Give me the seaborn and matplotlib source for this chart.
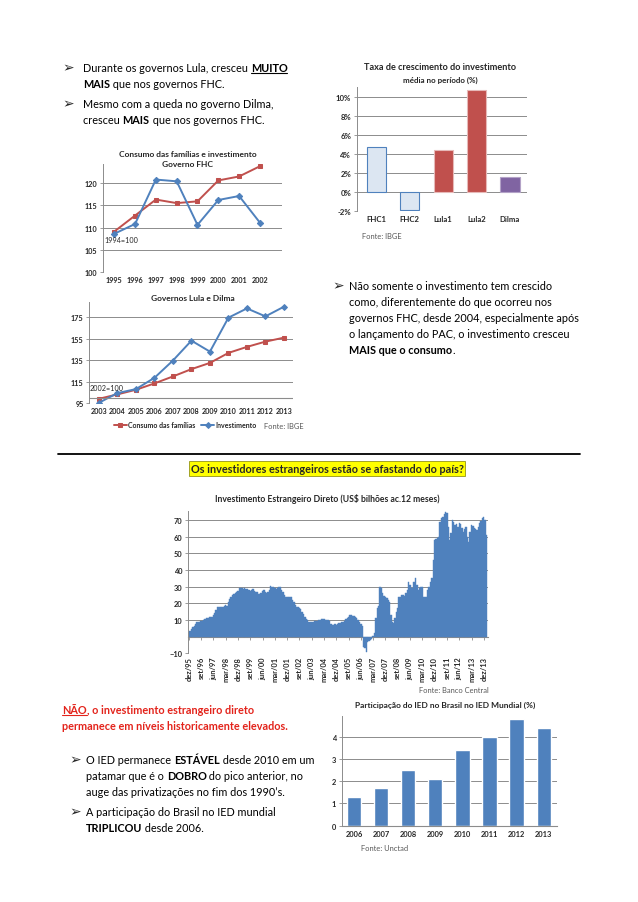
import matplotlib
matplotlib.use("Agg")
import matplotlib.pyplot as plt
from matplotlib.lines import Line2D
import seaborn as sns
import pandas as pd
import numpy as np

W, H = 638, 903
FONT = ["Lato", "DejaVu Sans"]
BLUE = "#4F81BD"
RED = "#C0504D"
GRID = "#8C8C8C"
BODY = 7.8

# ---------------- data ----------------
taxa_periodos = ["FHC1", "FHC2", "Lula1", "Lula2", "Dilma"]
taxa_valores = [4.7, -1.9, 4.4, 10.7, 1.6]

fhc_anos = ["1995", "1996", "1997", "1998", "1999", "2000", "2001", "2002"]
fhc_consumo = [109.1, 112.7, 116.3, 115.5, 115.9, 120.6, 121.5, 123.8]
fhc_invest = [108.6, 110.8, 120.8, 120.4, 110.6, 116.2, 117.1, 111.1]

ld_anos = ["2003", "2004", "2005", "2006", "2007", "2008", "2009", "2010", "2011", "2012", "2013"]
ld_consumo = [99.2, 103.3, 107.6, 113.5, 120.0, 126.8, 132.6, 141.9, 147.5, 152.4, 156.1]
ld_invest = [95.5, 104.5, 108.2, 118.7, 134.8, 153.3, 143.1, 174.7, 183.3, 175.9, 184.9]

# IED liquido, US$ bi acumulado 12 meses, mensal de dez/95 a fev/14
ied_valores = [
    2.5,
    3.5, 4.5, 5.5, 6.5, 7.5, 8.5, 9, 9, 9.5, 9.5, 10, 10.5,
    11, 11, 11.5, 11.5, 12, 13, 14, 16, 17.5, 17.5, 18, 18,
    18, 18.5, 19, 18.5, 20.5, 22.5, 24, 25, 25.5, 26, 26.5, 27.5,
    29, 29, 29, 28.5, 29, 28.5, 28.5, 28, 27.5, 28, 28.5, 27.5,
    27, 26.5, 25.5, 25.5, 26, 27.5, 28, 27, 26, 26.5, 28, 30.5,
    30, 29.5, 29, 28.5, 29, 29.5, 30, 28, 27, 25, 24, 24,
    24, 23.5, 23.5, 22, 21, 19, 18, 17.5, 17, 16.5, 15, 13.5,
    12, 10.5, 10, 9, 8.5, 8.5, 9, 9.5, 9.5, 9.5, 10, 10,
    10.5, 10.5, 10.5, 10, 10, 10, 9.5, 7.5, 7, 7, 7.5, 7,
    7.5, 8, 8, 8.5, 9, 9.5, 10.5, 11, 12, 13, 13, 12.5,
    12.5, 12, 11, 10, 9, 7.5, 6.5, -6, -7, -9.5, -3, -2.5,
    -2, -1.5, 0.5, 2, 11, 17, 18.5, 30, 29, 26, 24.5, 23.5,
    23, 22, 20.5, 13, 9, 8, 11, 15, 17, 23.5, 24, 25,
    25, 24.5, 26, 28, 33, 31, 29, 29, 33, 35, 31, 28,
    29, 30, 29.5, 24, 23.5, 24, 28, 30, 33, 35, 46, 58,
    58.5, 59, 60, 69, 71, 72, 73.5, 74.5, 74, 66, 58, 62,
    70, 68.5, 67, 67.5, 66, 68, 67.5, 65, 63, 64.5, 66, 60,
    57, 63, 67, 66.5, 65, 64.5, 64, 65.5, 68, 69.5, 71, 72,
    70, 61,
]
ied_rotulos = ["dez/95", "set/96", "jun/97", "mar/98", "dez/98", "set/99", "jun/00",
               "mar/01", "dez/01", "set/02", "jun/03", "mar/04", "dez/04", "set/05",
               "jun/06", "mar/07", "dez/07", "set/08", "jun/09", "mar/10", "dez/10",
               "set/11", "jun/12", "mar/13", "dez/13"]

share_anos = ["2006", "2007", "2008", "2009", "2010", "2011", "2012", "2013"]
share_valores = [1.3, 1.7, 2.5, 2.1, 3.4, 4.0, 4.8, 4.4]

# ---------------- figure ----------------
sns.set_theme(style="white")
plt.rcParams["font.family"] = FONT

fig = plt.figure(figsize=(W / 100, H / 100), dpi=100)
fig.patch.set_facecolor("white")
renderer = fig.canvas.get_renderer()


def add_ax(l, t, r, b):
    return fig.add_axes([l / W, 1 - b / H, (r - l) / W, (b - t) / H])


def ftext(x, y, s, **kw):
    kw.setdefault("family", FONT)
    return fig.text(x / W, 1 - y / H, s, **kw)


def text_w(s, **kw):
    t = fig.text(0, 0, "|" + s + "|", **kw)
    w1 = t.get_window_extent(renderer).width
    t.remove()
    t = fig.text(0, 0, "||", **kw)
    w0 = t.get_window_extent(renderer).width
    t.remove()
    return w1 - w0


def rich(x, y, segs, size=BODY, color="black"):
    # segs: (texto, negrito, sublinhado)
    for txt, bold, und in segs:
        kw = dict(fontsize=size, fontweight="bold" if bold else "normal",
                  family=FONT, color=color)
        fig.text(x / W, 1 - y / H, txt, va="baseline", ha="left", **kw)
        w = text_w(txt, **kw)
        if und:
            fig.add_artist(Line2D([x / W, (x + w) / W], [1 - (y + 1.8) / H] * 2,
                                  color=color, lw=0.8))
        x += w


def style_ax(ax, size=5.6):
    for s in ["top", "right", "bottom"]:
        ax.spines[s].set_visible(False)
    ax.spines["left"].set_color(GRID)
    ax.spines["left"].set_linewidth(0.7)
    ax.yaxis.grid(True, color=GRID, lw=0.7)
    ax.set_axisbelow(True)
    ax.tick_params(axis="y", length=2, width=0.6, color=GRID, pad=2, labelsize=size, left=True)
    ax.tick_params(axis="x", length=0, pad=3, labelsize=size)
    for lab in ax.get_xticklabels() + ax.get_yticklabels():
        lab.set_fontweight("bold")
    ax.set_xlabel("")
    ax.set_ylabel("")


def arrow(x, y):
    ftext(x, y, "\u27A2", fontsize=10, fontweight="bold", va="baseline", family=["DejaVu Sans"])


# ---------------- textos topo ----------------
arrow(62, 72)
rich(83, 72, [("Durante os governos Lula, cresceu ", False, False), ("MUITO", True, True)])
rich(83, 88, [("MAIS", True, False), (" que nos governos FHC.", False, False)])
arrow(62, 108)
rich(83, 108, [("Mesmo com a queda no governo Dilma,", False, False)])
rich(83, 124, [("cresceu ", False, False), ("MAIS", True, False), (" que nos governos FHC.", False, False)])

# ---------------- taxa de crescimento ----------------
ax = add_ax(356.7, 88.3, 526.7, 212)
df_taxa = pd.DataFrame({"periodo": taxa_periodos, "valor": taxa_valores})
sns.barplot(data=df_taxa, x="periodo", y="valor", hue="periodo",
            palette=["#DCE6F2", "#DCE6F2", RED, RED, "#8064A2"],
            legend=False, width=0.57, saturation=1, ax=ax)
for p, ec in zip(ax.patches, [BLUE, BLUE, "#E6B9B8", "#E6B9B8", "#B3A2C7"]):
    p.set_edgecolor(ec)
    p.set_linewidth(0.8)
ax.set_ylim(-2, 11)
ax.set_xlim(-0.58, 4.5)
ax.set_yticks(range(-2, 11, 2))
ax.set_yticklabels([f"{v}%" for v in range(-2, 11, 2)])
style_ax(ax)
ftext(440, 70, "Taxa de crescimento do investimento", fontsize=6.6, fontweight="bold", ha="center", va="baseline")
ftext(440, 83, "média no período (%)", fontsize=5.8, fontweight="bold", ha="center", va="baseline")
ftext(362, 239, "Fonte: IBGE", fontsize=5.4, color="#595959", va="baseline")

# ---------------- Governo FHC ----------------
ax = add_ax(103, 165, 282, 273)
x8 = np.arange(len(fhc_anos))
sns.lineplot(x=x8, y=fhc_consumo, color=RED, marker="s", markersize=3.2,
             markeredgecolor=RED, lw=1.4, ax=ax)
sns.lineplot(x=x8, y=fhc_invest, color=BLUE, marker="D", markersize=3.2,
             markeredgecolor=BLUE, lw=1.4, ax=ax)
ax.set_ylim(100, 124.3)
ax.set_xlim(-0.54, 8.06)
ax.set_yticks(range(100, 121, 5))
ax.set_xticks(x8)
ax.set_xticklabels(fhc_anos)
style_ax(ax, 5.2)
ftext(188, 157, "Consumo das famílias e investimento", fontsize=6.0, fontweight="bold", ha="center", va="baseline")
ftext(188, 167, "Governo FHC", fontsize=6.0, fontweight="bold", ha="center", va="baseline")
ftext(104, 243, "1994=100", fontsize=5.2, va="baseline")

# ---------------- Governos Lula e Dilma ----------------
ax = add_ax(89.3, 303.3, 293, 404.3)
x11 = np.arange(len(ld_anos))
sns.lineplot(x=x11, y=ld_consumo, color=RED, marker="s", markersize=3.0,
             markeredgecolor=RED, lw=1.4, ax=ax, label="Consumo das famílias")
sns.lineplot(x=x11, y=ld_invest, color=BLUE, marker="D", markersize=3.0,
             markeredgecolor=BLUE, lw=1.4, ax=ax, label="Investimento")
ax.set_ylim(95, 189)
ax.set_xlim(-0.52, 10.49)
ax.set_yticks(range(95, 176, 20))
ax.set_xticks(x11)
ax.set_xticklabels(ld_anos)
ax.axhline(100, color=GRID, lw=0.8)
style_ax(ax, 5.2)
leg = ax.legend(loc="upper left", bbox_to_anchor=(0.12, -0.175), ncol=2, frameon=False,
                fontsize=5.0, handlelength=1.9, handletextpad=0.2, columnspacing=0.8,
                borderaxespad=0, borderpad=0)
for t in leg.get_texts():
    t.set_fontweight("bold")
ftext(193, 301, "Governos Lula e Dilma", fontsize=6.0, fontweight="bold", ha="center", va="baseline")
ftext(90, 391, "2002=100", fontsize=5.2, va="baseline")
ftext(264, 429, "Fonte: IBGE", fontsize=5.4, color="#595959", va="baseline")

# ---------------- texto direita ----------------
arrow(332, 290)
rich(349, 290, [("Não somente o investimento tem crescido", False, False)])
rich(349, 306, [("como, diferentemente do que ocorreu nos", False, False)])
rich(349, 322, [("governos FHC, desde 2004, especialmente após", False, False)])
rich(349, 338, [("o lançamento do PAC, o investimento cresceu", False, False)])
rich(349, 354, [("MAIS que o consumo", True, False), (".", False, False)])

# ---------------- divisor e titulo ----------------
fig.add_artist(Line2D([58 / W, 580 / W], [1 - 455 / H] * 2, color="black", lw=1.3))
tkw = dict(fontsize=7.8, fontweight="bold", family=FONT)
tw = text_w("Os investidores estrangeiros estão se afastando do país?", **tkw)
ftext(327, 473, "Os investidores estrangeiros estão se afastando do país?", ha="center",
      va="baseline", bbox=dict(facecolor="#FFFF00", edgecolor="#7F7F00", lw=0.5, pad=1.2), **tkw)
fig.add_artist(Line2D([(327 - tw / 2) / W, (327 + tw / 2) / W], [1 - 475 / H] * 2, color="black", lw=0.8))

# ---------------- IED mensal ----------------
ax = add_ax(187.7, 512.3, 488.3, 654.3)
df_ied = pd.DataFrame({"mes": np.arange(len(ied_valores)), "valor": ied_valores})
sns.barplot(data=df_ied, x="mes", y="valor", color=BLUE, width=1.0, native_scale=True,
            saturation=1, edgecolor=BLUE, linewidth=0.3, ax=ax)
ax.set_ylim(-10, 75.2)
ax.set_xlim(-0.8, 219.3)
ax.set_yticks([-10, 10, 20, 30, 40, 50, 60, 70])
pos = np.arange(0, 9 * len(ied_rotulos), 9)
ax.set_xticks(pos)
ax.set_xticklabels(ied_rotulos, rotation=90)
style_ax(ax, 5.4)
ax.tick_params(axis="x", pad=2)
sec = ax.secondary_xaxis(10 / 85.2)
sec.set_xticks(pos)
sec.set_xticklabels([])
sec.tick_params(length=2.5, width=0.6, color=GRID)
sec.spines["bottom"].set_color(GRID)
sec.spines["bottom"].set_linewidth(0.8)
ftext(327, 502, "Investimento Estrangeiro Direto (US$ bilhões ac.12 meses)", fontsize=6.2,
      fontweight="bold", ha="center", va="baseline")
ftext(489, 693, "Fonte: Banco Central", fontsize=5.4, color="#595959", ha="right", va="baseline")

# ---------------- texto inferior esquerdo ----------------
rich(62, 714, [("NÃO", True, True), (", o investimento estrangeiro direto", True, False)], color="#E3231B")
rich(62, 730, [("permanece em níveis historicamente elevados.", True, False)], color="#E3231B")
arrow(69, 764)
rich(86, 764, [("O IED permanece ", False, False), ("ESTÁVEL", True, False), (" desde 2010 em um", False, False)])
rich(86, 780, [("patamar que é o ", False, False), ("DOBRO", True, False), (" do pico anterior, no", False, False)])
rich(86, 796, [("auge das privatizações no fim dos 1990\u2019s.", False, False)])
arrow(69, 816)
rich(86, 816, [("A participação do Brasil no IED mundial", False, False)])
rich(86, 832, [("TRIPLICOU", True, False), (" desde 2006.", False, False)])

# ---------------- participacao IED ----------------
ax = add_ax(341.7, 716.7, 557.3, 826.7)
df_share = pd.DataFrame({"ano": share_anos, "valor": share_valores})
sns.barplot(data=df_share, x="ano", y="valor", color=BLUE, width=0.53, saturation=1, ax=ax)
ax.set_ylim(0, 4.95)
ax.set_xlim(-0.45, 7.5)
ax.set_yticks(range(0, 5))
style_ax(ax, 5.4)
ax.spines["bottom"].set_visible(True)
ax.spines["bottom"].set_color(GRID)
ax.spines["bottom"].set_linewidth(0.8)
ftext(445, 708, "Participação do IED no Brasil no IED Mundial (%)", fontsize=6.0,
      fontweight="bold", ha="center", va="baseline")
ftext(361, 851, "Fonte: Unctad", fontsize=5.4, color="#595959", va="baseline")

fig.savefig("out.png", dpi=100, facecolor="white")
